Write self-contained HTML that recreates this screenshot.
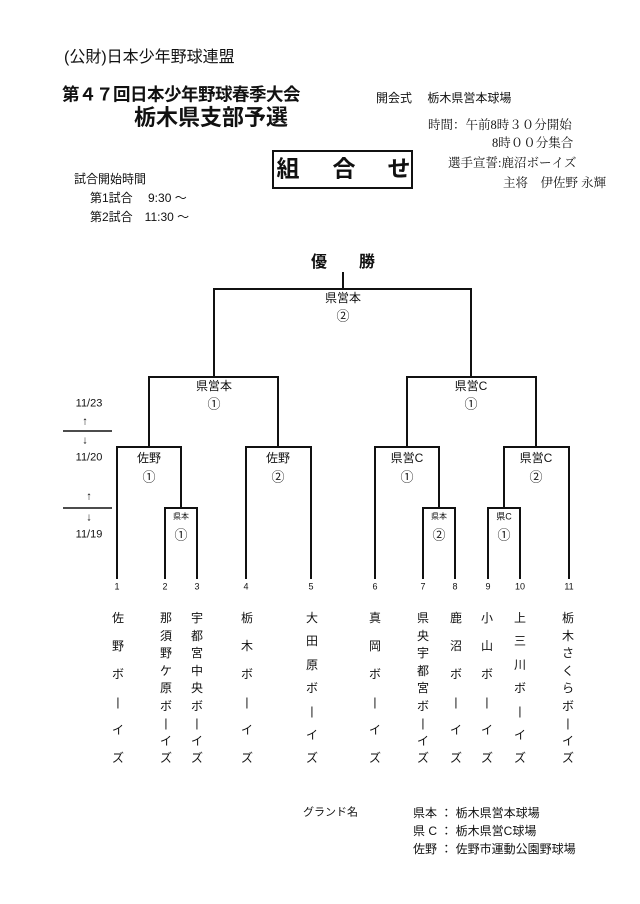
<!DOCTYPE html>
<html><head><meta charset="utf-8"><style>
body{margin:0;width:640px;height:904px;background:#fff;position:relative;font-family:"Liberation Sans","Noto Sans CJK JP",sans-serif;color:#111;overflow:hidden}
.t{position:absolute;white-space:nowrap;line-height:1}
.c{transform:translate(-50%,-50%)}
.l{transform:translateY(-50%)}
.col{position:absolute;top:612px;height:152px;display:flex;flex-direction:column;justify-content:space-between;align-items:center;font-size:12px;line-height:1;transform:translateX(-50%)}
</style></head><body>
<div class="t l" style="left:64px;top:58px;font-size:16px">(公財)日本少年野球連盟</div>
<div class="t l" style="left:62px;top:95px;font-size:17.5px;font-weight:bold;letter-spacing:-0.5px">第４７回日本少年野球春季大会</div>
<div class="t l" style="left:134px;top:118px;font-size:22px;font-weight:bold">栃木県支部予選</div>
<div class="t l" style="left:376px;top:98px;font-size:12px">開会式　 栃木県営本球場</div>
<div class="t l" style="left:428px;top:125px;font-size:12.5px;font-family:'Liberation Serif','Noto Serif CJK SC',serif">時間：午前8時３０分開始</div>
<div class="t l" style="left:492px;top:143px;font-size:12.5px;font-family:'Liberation Serif','Noto Serif CJK SC',serif">8時００分集合</div>
<div class="t l" style="left:448px;top:163px;font-size:12.5px;font-family:'Liberation Serif','Noto Serif CJK SC',serif">選手宣誓:鹿沼ボーイズ</div>
<div class="t l" style="left:503px;top:183px;font-size:12.5px;font-family:'Liberation Serif','Noto Serif CJK SC',serif">主将　伊佐野 永輝</div>
<div style="position:absolute;left:272px;top:150px;width:137px;height:35px;border:2px solid #111"></div>
<div class="t c" style="left:288px;top:169px;font-size:23px;font-weight:bold">組</div>
<div class="t c" style="left:344px;top:169px;font-size:23px;font-weight:bold">合</div>
<div class="t c" style="left:399px;top:169px;font-size:23px;font-weight:bold">せ</div>
<div class="t l" style="left:74px;top:179px;font-size:12px">試合開始時間</div>
<div class="t l" style="left:90px;top:198px;font-size:12px">第1試合　 9:30 ～</div>
<div class="t l" style="left:90px;top:217px;font-size:12px">第2試合　11:30 ～</div>

<svg width="640" height="904" style="position:absolute;left:0;top:0" fill="none" stroke="#111" stroke-width="2">
<path d="M343 272V289M214 377V289H471V377"/>
<path d="M149 447V377H278V447M407 447V377H536V447"/>
<path d="M117 579V447H181V508M246 579V447H311V579M375 579V447H439V508M504 508V447H569V579"/>
<path d="M165 579V508H197V579M423 579V508H455V579M488 579V508H520V579"/>
<path d="M63 431H112M63 508H112" stroke-width="1.5"/>
</svg>

<div class="t c" style="left:343px;top:263px;font-size:16px;font-weight:bold">優　　勝</div>
<div class="t c" style="left:343px;top:298px;font-size:12px">県営本</div>
<div class="t c" style="left:343px;top:316px;font-size:13px">②</div>
<div class="t c" style="left:214px;top:386px;font-size:12px">県営本</div>
<div class="t c" style="left:214px;top:404px;font-size:13px">①</div>
<div class="t c" style="left:471px;top:386px;font-size:12px">県営C</div>
<div class="t c" style="left:471px;top:404px;font-size:13px">①</div>
<div class="t c" style="left:149px;top:458px;font-size:12px">佐野</div>
<div class="t c" style="left:149px;top:477px;font-size:13px">①</div>
<div class="t c" style="left:278px;top:458px;font-size:12px">佐野</div>
<div class="t c" style="left:278px;top:477px;font-size:13px">②</div>
<div class="t c" style="left:407px;top:458px;font-size:12px">県営C</div>
<div class="t c" style="left:407px;top:477px;font-size:13px">①</div>
<div class="t c" style="left:536px;top:458px;font-size:12px">県営C</div>
<div class="t c" style="left:536px;top:477px;font-size:13px">②</div>
<div class="t c" style="left:181px;top:517px;font-size:8px">県本</div>
<div class="t c" style="left:181px;top:535px;font-size:13px">①</div>
<div class="t c" style="left:439px;top:517px;font-size:8px">県本</div>
<div class="t c" style="left:439px;top:535px;font-size:13px">②</div>
<div class="t c" style="left:504px;top:517px;font-size:9px">県C</div>
<div class="t c" style="left:504px;top:535px;font-size:13px">①</div>

<div class="t c" style="left:89px;top:404px;font-size:11px">11/23</div>
<div class="t c" style="left:85px;top:422px;font-size:11px">↑</div>
<div class="t c" style="left:85px;top:441px;font-size:11px">↓</div>
<div class="t c" style="left:89px;top:458px;font-size:11px">11/20</div>
<div class="t c" style="left:89px;top:497px;font-size:11px">↑</div>
<div class="t c" style="left:89px;top:518px;font-size:11px">↓</div>
<div class="t c" style="left:89px;top:535px;font-size:11px">11/19</div>

<div class="t c" style="left:117px;top:587px;font-size:9px">1</div>
<div class="t c" style="left:165px;top:587px;font-size:9px">2</div>
<div class="t c" style="left:197px;top:587px;font-size:9px">3</div>
<div class="t c" style="left:246px;top:587px;font-size:9px">4</div>
<div class="t c" style="left:311px;top:587px;font-size:9px">5</div>
<div class="t c" style="left:375px;top:587px;font-size:9px">6</div>
<div class="t c" style="left:423px;top:587px;font-size:9px">7</div>
<div class="t c" style="left:455px;top:587px;font-size:9px">8</div>
<div class="t c" style="left:488px;top:587px;font-size:9px">9</div>
<div class="t c" style="left:520px;top:587px;font-size:9px">10</div>
<div class="t c" style="left:569px;top:587px;font-size:9px">11</div>

<div class="col" style="left:118px"><span>佐</span><span>野</span><span>ボ</span><span>|</span><span>イ</span><span>ズ</span></div>
<div class="col" style="left:166px"><span>那</span><span>須</span><span>野</span><span>ケ</span><span>原</span><span>ボ</span><span>|</span><span>イ</span><span>ズ</span></div>
<div class="col" style="left:197px"><span>宇</span><span>都</span><span>宮</span><span>中</span><span>央</span><span>ボ</span><span>|</span><span>イ</span><span>ズ</span></div>
<div class="col" style="left:247px"><span>栃</span><span>木</span><span>ボ</span><span>|</span><span>イ</span><span>ズ</span></div>
<div class="col" style="left:312px"><span>大</span><span>田</span><span>原</span><span>ボ</span><span>|</span><span>イ</span><span>ズ</span></div>
<div class="col" style="left:375px"><span>真</span><span>岡</span><span>ボ</span><span>|</span><span>イ</span><span>ズ</span></div>
<div class="col" style="left:423px"><span>県</span><span>央</span><span>宇</span><span>都</span><span>宮</span><span>ボ</span><span>|</span><span>イ</span><span>ズ</span></div>
<div class="col" style="left:456px"><span>鹿</span><span>沼</span><span>ボ</span><span>|</span><span>イ</span><span>ズ</span></div>
<div class="col" style="left:487px"><span>小</span><span>山</span><span>ボ</span><span>|</span><span>イ</span><span>ズ</span></div>
<div class="col" style="left:520px"><span>上</span><span>三</span><span>川</span><span>ボ</span><span>|</span><span>イ</span><span>ズ</span></div>
<div class="col" style="left:568px"><span>栃</span><span>木</span><span>さ</span><span>く</span><span>ら</span><span>ボ</span><span>|</span><span>イ</span><span>ズ</span></div>

<div class="t l" style="left:303px;top:813px;font-size:11px">グランド名</div>
<div class="t l" style="left:413px;top:813px;font-size:12px">県本 ： 栃木県営本球場</div>
<div class="t l" style="left:413px;top:831px;font-size:12px">県 C ： 栃木県営C球場</div>
<div class="t l" style="left:413px;top:849px;font-size:12px">佐野 ： 佐野市運動公園野球場</div>
</body></html>
